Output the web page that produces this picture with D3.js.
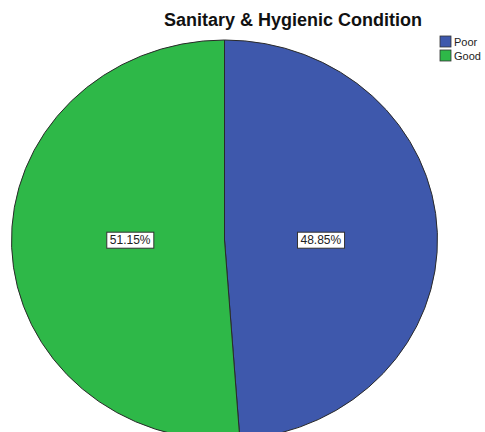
<!DOCTYPE html>
<html>
<head>
<meta charset="utf-8">
<script src="https://cdn.jsdelivr.net/npm/d3@7"></script>
<style>
  body { margin: 0; background: #fff; }
  text { font-family: "Liberation Sans", Arial, sans-serif; }
</style>
</head>
<body>
<script>
// Slices (clockwise from 12 o'clock)
var categories = ["Poor", "Good"]
var percents = [48.85, 51.15]
var colors = ["#3e58ac", "#2eb848"]

var width = 485, height = 432
// the pie is stretched a bit wider than tall in the original
var cx = 224.5, cy = 240, rx = 213, ry = 200

var svg = d3.select("body").append("svg")
  .attr("width", width)
  .attr("height", height)

var data = categories.map(function(c, i) { return {name: c, value: percents[i]} })

var pie = d3.pie()
  .sort(null)
  .value(function(d) { return d.value })

var arc = d3.arc().innerRadius(0).outerRadius(rx)
var labelArc = d3.arc().innerRadius(rx * 0.448).outerRadius(rx * 0.448)

var slices = pie(data)

var g = svg.append("g")
  .attr("transform", "translate(" + cx + "," + cy + ") scale(1," + (ry / rx) + ")")

g.selectAll("path")
  .data(slices)
  .enter().append("path")
  .attr("d", arc)
  .attr("fill", function(d, i) { return colors[i] })
  .attr("stroke", "#2a2a2a")
  .attr("stroke-width", 1)
  .attr("vector-effect", "non-scaling-stroke")

// labels sit outside the scaled group so the text isn't squashed
// (SPSS keeps them on one horizontal line through the centre)
var labels = svg.selectAll(".lbl")
  .data(slices)
  .enter().append("g")
  .attr("class", "lbl")
  .attr("transform", function(d) {
    var c = labelArc.centroid(d)
    return "translate(" + (cx + c[0] + 1) + "," + cy + ")"
  })

labels.append("text")
  .attr("text-anchor", "middle")
  .attr("dy", "0.35em")
  .style("font-size", "12px")
  .attr("fill", "#222")
  .text(function(d) { return d.data.value.toFixed(2) + "%" })

labels.each(function() {
  var sel = d3.select(this)
  var bb = sel.select("text").node().getBBox()
  sel.insert("rect", "text")
    .attr("x", bb.x - 3)
    .attr("y", bb.y - 1)
    .attr("width", bb.width + 6)
    .attr("height", bb.height + 2)
    .attr("fill", "#fff")
    .attr("stroke", "#333")
    .attr("stroke-width", 1)
})

// title
svg.append("text")
  .attr("x", 293)
  .attr("y", 26)
  .attr("text-anchor", "middle")
  .style("font-size", "18px")
  .style("font-weight", "bold")
  .attr("fill", "#111")
  .text("Sanitary & Hygienic Condition")

// legend
var legend = svg.selectAll(".legend")
  .data(categories)
  .enter().append("g")
  .attr("class", "legend")
  .attr("transform", function(d, i) { return "translate(440," + (36 + i * 14) + ")" })

legend.append("rect")
  .attr("width", 11)
  .attr("height", 11)
  .attr("fill", function(d, i) { return colors[i] })
  .attr("stroke", "#333")
  .attr("stroke-width", 0.8)

legend.append("text")
  .attr("x", 14)
  .attr("y", 10)
  .style("font-size", "11px")
  .attr("fill", "#222")
  .text(function(d) { return d })
</script>
</body>
</html>
